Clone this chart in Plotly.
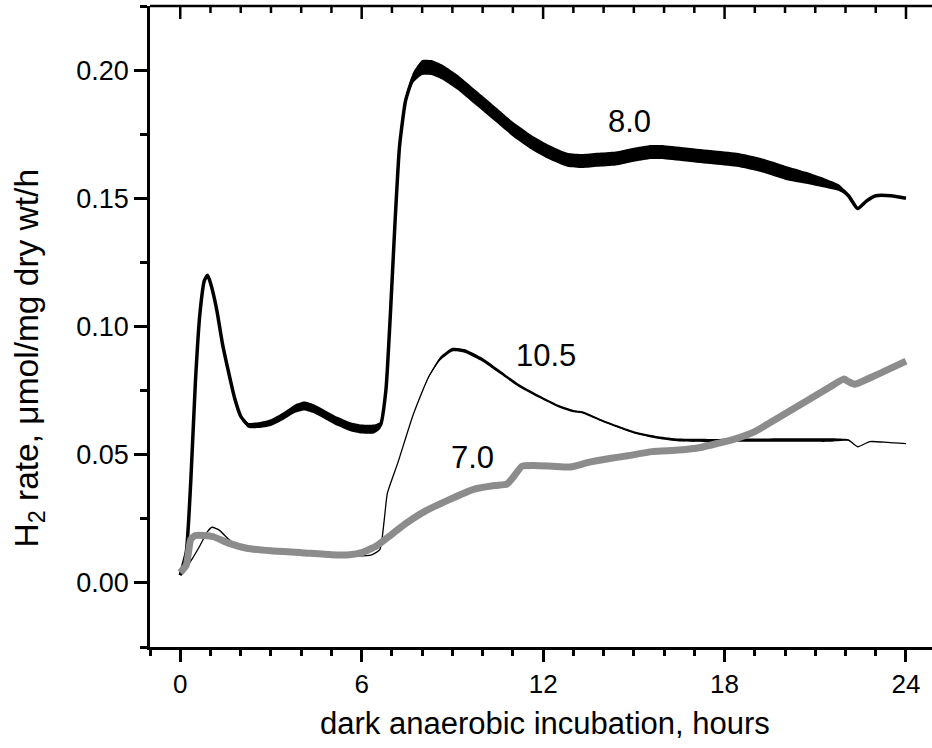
import numpy as np
import plotly.graph_objects as go

# ---------------- data ----------------
hours_80 = [0, 0.2, 0.35, 0.5, 0.65, 0.8, 0.9, 1.0, 1.2, 1.4, 1.65, 1.8, 2.0, 2.25, 2.6,
            3.0, 3.4, 3.8, 4.1, 4.4, 4.8, 5.2, 5.6, 6.0, 6.4, 6.62, 6.8, 6.95, 7.1, 7.25,
            7.45, 7.7, 8.0, 8.3, 8.7, 9.2, 9.8, 10.4, 11.0, 11.6, 12.2, 12.8, 13.3, 13.8,
            14.4, 15.0, 15.5, 16.0, 16.8, 17.6, 18.4, 19.2, 20.0, 20.7, 21.3, 21.8, 22.1,
            22.4, 22.7, 23.0, 23.5, 24.0]
rate_80 = [0.003, 0.012, 0.040, 0.078, 0.105, 0.118, 0.120, 0.117, 0.107, 0.093, 0.0795,
           0.072, 0.065, 0.0615, 0.0615, 0.0625, 0.065, 0.068, 0.069, 0.068, 0.0655, 0.063,
           0.061, 0.060, 0.060, 0.0615, 0.075, 0.105, 0.140, 0.170, 0.188, 0.197, 0.201,
           0.201, 0.199, 0.195, 0.189, 0.183, 0.177, 0.172, 0.168, 0.165, 0.1645, 0.165,
           0.1655, 0.167, 0.168, 0.168, 0.167, 0.166, 0.165, 0.163, 0.160, 0.158, 0.156,
           0.154, 0.151, 0.146, 0.149, 0.151, 0.151, 0.150]

hours_105 = [0, 0.2, 0.4, 0.65, 0.9, 1.05, 1.3, 1.6, 2.0, 3.0, 4.0, 5.0, 5.8, 6.3, 6.6,
             6.75, 6.85, 7.2, 7.7, 8.2, 8.6, 9.0, 9.4, 10.0, 10.6, 11.2, 11.9, 12.5, 13.0,
             13.3, 14.0, 15.0, 15.8, 16.5, 17.5, 18.5, 19.5, 20.5, 21.5, 22.1, 22.4, 22.8,
             23.4, 24.0]
rate_105 = [0.003, 0.006, 0.0095, 0.0145, 0.020, 0.0217, 0.0205, 0.017, 0.014, 0.012,
            0.0112, 0.0105, 0.0105, 0.0108, 0.013, 0.025, 0.035, 0.047, 0.0655, 0.080,
            0.0875, 0.091, 0.0905, 0.087, 0.082, 0.077, 0.0725, 0.069, 0.067, 0.0665,
            0.063, 0.0587, 0.0567, 0.0557, 0.0555, 0.0557, 0.0557, 0.0557, 0.0557, 0.0557,
            0.0531, 0.0551, 0.0548, 0.0543]

hours_70 = [0, 0.2, 0.35, 0.5, 0.8, 1.1, 1.6, 2.2, 3.0, 4.0, 5.0, 5.6, 6.0, 6.5, 7.0, 7.5,
            8.1, 8.9, 9.7, 10.4, 10.8, 11.0, 11.3, 11.7, 12.3, 12.9, 13.5, 14.2, 14.8, 15.6,
            16.5, 17.2, 17.8, 18.3, 19.0, 19.5, 20.0, 20.5, 21.0, 21.5, 21.95, 22.1, 22.3,
            23.0, 24.0]
rate_70 = [0.004, 0.007, 0.017, 0.0185, 0.0185, 0.018, 0.0155, 0.0135, 0.0125, 0.0118,
           0.011, 0.011, 0.0118, 0.0145, 0.019, 0.0235, 0.028, 0.0325, 0.0365, 0.038,
           0.0385, 0.041, 0.0455, 0.0458, 0.0455, 0.0452, 0.047, 0.0485, 0.0496, 0.0512,
           0.0518, 0.0528, 0.0545, 0.056, 0.059, 0.0625, 0.066, 0.0695, 0.073, 0.0765,
           0.0795, 0.0785, 0.0775, 0.081, 0.0865]

x_ticks = [0, 6, 12, 18, 24]
x_minor_step = 1
y_ticks = [0.00, 0.05, 0.10, 0.15, 0.20]
y_tick_text = ["0.00", "0.05", "0.10", "0.15", "0.20"]
series_names = ["8.0", "10.5", "7.0"]

# ---------------- styling ----------------
FONT = "Liberation Sans, Arial, sans-serif"
X_RANGE = [-1, 24.86]
Y_RANGE = [-0.025, 0.225]
PLOT_W = 782  # px width of plotting area
PLOT_H = 641  # px height of plotting area
PX = (Y_RANGE[1] - Y_RANGE[0]) / PLOT_H
SMOOTH = 0.5
TICK = dict(color="black", width=2.5)


def noise_band(xs, ys, knot_x, knot_px):
    xs = np.asarray(xs, float)
    ys = np.asarray(ys, float)
    h = np.interp(xs, knot_x, knot_px) * PX
    bx = np.concatenate([xs, xs[::-1]])
    by = np.concatenate([ys + h, (ys - h)[::-1]])
    return bx, by


fig = go.Figure()

# 10.5 series (thin black with a slightly noisy band)
bx, by = noise_band(hours_105, rate_105,
                    [0, 8.0, 8.6, 10.0, 12.0, 14.0, 15.5, 17.0, 22.0, 22.15, 24],
                    [0, 0, 1.8, 1.8, 1.3, 1.0, 1.2, 1.6, 1.8, 0, 0])
fig.add_trace(go.Scatter(x=bx, y=by, fill="toself", fillcolor="black",
                         line=dict(width=0, shape="spline", smoothing=SMOOTH),
                         mode="lines", hoverinfo="skip", showlegend=False))
fig.add_trace(go.Scatter(x=hours_105, y=rate_105, mode="lines", name=series_names[1],
                         line=dict(color="black", width=1.3, shape="spline",
                                   smoothing=SMOOTH),
                         showlegend=False))

# 8.0 series (thick noisy black band)
bx, by = noise_band(hours_80, rate_80,
                    [0, 1.5, 2.2, 3.2, 4.2, 6.5, 6.8, 7.4, 8.0, 10.0, 13.0, 20.0, 21.0, 21.9, 22.2, 24],
                    [0, 0, 2.5, 3.5, 4.5, 4.5, 2.0, 3.0, 7.5, 7.5, 7.0, 7.0, 5.5, 3.0, 0, 0])
fig.add_trace(go.Scatter(x=bx, y=by, fill="toself", fillcolor="black",
                         line=dict(width=0, shape="spline", smoothing=SMOOTH),
                         mode="lines", hoverinfo="skip", showlegend=False))
fig.add_trace(go.Scatter(x=hours_80, y=rate_80, mode="lines", name=series_names[0],
                         line=dict(color="black", width=3.5, shape="spline",
                                   smoothing=SMOOTH),
                         showlegend=False))

# 7.0 series (thick grey)
fig.add_trace(go.Scatter(x=hours_70, y=rate_70, mode="lines", name=series_names[2],
                         line=dict(color="#8c8c8c", width=7, shape="spline",
                                   smoothing=SMOOTH),
                         showlegend=False))

# series labels
for name, lx, ly in zip(series_names, [14.87, 12.09, 9.66], [0.1801, 0.0885, 0.0489]):
    fig.add_annotation(x=lx, y=ly, text=name, showarrow=False,
                       font=dict(family=FONT, size=31, color="black"),
                       xanchor="center", yanchor="middle")

# axis titles
fig.add_annotation(xref="paper", yref="paper", x=0.505, y=-0.12,
                   text="dark anaerobic incubation, hours", showarrow=False,
                   font=dict(family=FONT, size=31, color="black"),
                   xanchor="center", yanchor="middle")
fig.add_annotation(xref="paper", yref="paper", x=-121 / PLOT_W, y=0.45,
                   text="H<sub>2</sub> rate, \u03bcmol/mg dry wt/h", showarrow=False,
                   textangle=-90,
                   font=dict(family=FONT, size=33.5, color="black"),
                   xanchor="center", yanchor="middle")

# white strip hiding the stray vertical edge line on the right (the frame is open there)
fig.add_shape(type="rect", xref="paper", yref="paper", layer="above",
              x0=1 - 4 / PLOT_W, x1=1.01, y0=2 / PLOT_H, y1=1 - 2 / PLOT_H,
              fillcolor="white", line=dict(width=0))

# top frame line with inward ticks (derived from the tick lists)
fig.add_shape(type="line", xref="paper", yref="paper", x0=0, x1=1, y0=1, y1=1, line=TICK)
for t in np.arange(0, X_RANGE[1], x_minor_step):
    major = any(abs(t - m) < 1e-9 for m in x_ticks)
    ln = (13 if major else 7) / PLOT_H
    fig.add_shape(type="line", xref="x", yref="paper", x0=t, x1=t, y0=1, y1=1 - ln,
                  line=TICK)

axis_common = dict(showgrid=False, zeroline=False, showline=True, linecolor="black",
                   linewidth=2.5, tickcolor="black", tickwidth=2.5)

fig.update_layout(
    width=932, height=748,
    margin=dict(l=150, r=0, t=6, b=101),
    paper_bgcolor="white", plot_bgcolor="white",
    hovermode=False,
    xaxis=dict(range=X_RANGE, tickvals=x_ticks, ticks="outside", ticklen=12,
               tickfont=dict(family=FONT, size=26, color="black"),
               minor=dict(dtick=x_minor_step, tick0=0, ticks="outside", ticklen=6,
                          tickwidth=2.5, tickcolor="black", showgrid=False),
               **axis_common),
    yaxis=dict(range=Y_RANGE, tickvals=y_ticks, ticktext=y_tick_text, ticks="outside",
               ticklen=13, tickfont=dict(family=FONT, size=27, color="black"),
               minor=dict(dtick=0.025, tick0=0, ticks="outside", ticklen=7,
                          tickwidth=2.5, tickcolor="black", showgrid=False),
               **axis_common),
)

fig.write_html("out.html", config={"displayModeBar": False},
               post_script="document.body.style.margin='0';"
                           "document.body.style.overflow='hidden';")
